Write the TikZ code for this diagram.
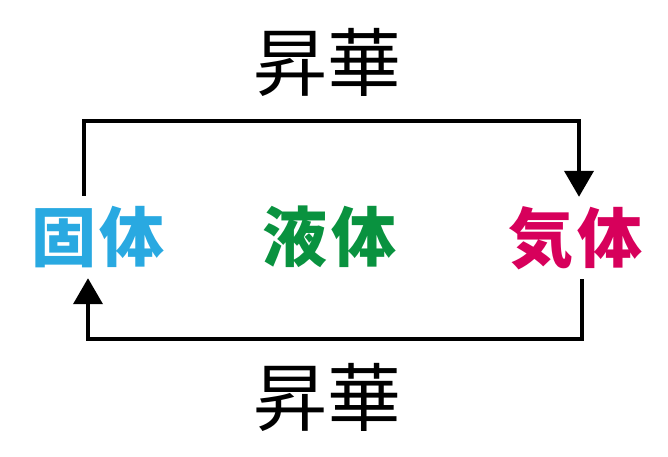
\documentclass[tikz,border=0pt]{standalone}
\usepackage{fontspec}
\newfontfamily\jp{Noto Sans CJK JP}
\usetikzlibrary{arrows.meta}
\definecolor{solidc}{HTML}{29A9E1}
\definecolor{liquidc}{HTML}{09923F}
\definecolor{gasc}{HTML}{D7005B}
\tikzset{
  phase/.style={inner sep=0pt, minimum height=82pt, font=\jp\bfseries\fontsize{65pt}{65pt}\selectfont},
  proc/.style={inner sep=0pt, font=\jp\fontsize{74pt}{74pt}\selectfont},
  conn/.style={line width=4pt, -{Triangle[width=29pt,length=26pt]}}
}
\begin{document}
\begin{tikzpicture}[x=1pt,y=-1pt]
\useasboundingbox (0,0) rectangle (668,456);
\node[phase, text=solidc] (solid) at (98,237) {固\hspace{4pt}体};
\node[phase, text=liquidc] (liquid) at (329.5,237) {液\hspace{4pt}体};
\node[phase, text=gasc] (gas) at (575.5,238) {気\hspace{4pt}体};
\node[proc] (sublimA) at (327.5,62) {昇華};
\node[proc] (sublimB) at (327.5,397) {昇華};
\coordinate (tl) at (83.5,121);
\coordinate (tr) at (579,121);
\coordinate (br) at (582,339);
\coordinate (bl) at (88,339);
\draw[conn] (solid.north -| tl) -- (tl) -- (tr) -- (gas.north -| tr);
\draw[conn] (gas.south -| br) -- (br) -- (bl) -- (solid.south -| bl);
\end{tikzpicture}
\end{document}
